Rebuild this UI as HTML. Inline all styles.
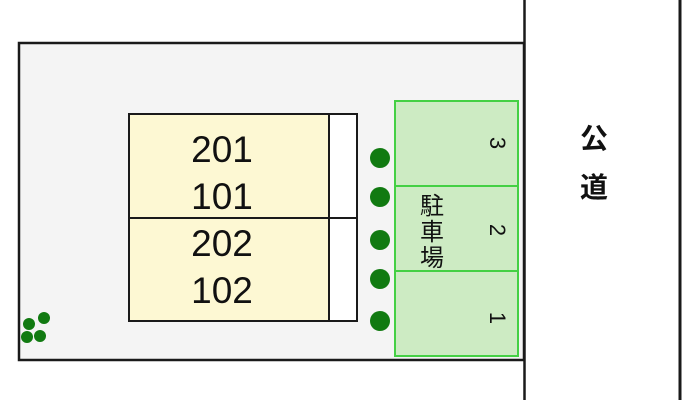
<!DOCTYPE html>
<html><head><meta charset="utf-8"><style>
html,body{margin:0;padding:0;background:#fff;}
svg{display:block;}
text{font-family:"Liberation Sans","Noto Sans CJK JP",sans-serif;}
</style></head><body>
<svg width="700" height="400" viewBox="0 0 700 400" xmlns="http://www.w3.org/2000/svg">
<rect x="0" y="0" width="700" height="400" fill="#fff"/>
<rect x="19" y="43" width="505" height="317" fill="#f4f4f4" stroke="#1a1a1a" stroke-width="2.5"/>
<line x1="524.5" y1="0" x2="524.5" y2="400" stroke="#1a1a1a" stroke-width="2.5"/>
<line x1="680" y1="0" x2="680" y2="400" stroke="#1a1a1a" stroke-width="3"/>
<rect x="129" y="114" width="200" height="207" fill="#fdf8d3" stroke="#1a1a1a" stroke-width="2"/>
<rect x="329" y="114" width="28" height="207" fill="#fff" stroke="#1a1a1a" stroke-width="2"/>
<line x1="129" y1="218" x2="357" y2="218" stroke="#1a1a1a" stroke-width="2"/>
<g font-size="37" text-anchor="middle" fill="#111">
<text x="222" y="162">201</text>
<text x="222" y="209">101</text>
<text x="222" y="256">202</text>
<text x="222" y="303">102</text>
</g>
<rect x="395" y="101" width="123" height="255" fill="#cdebc3" stroke="#44d044" stroke-width="2"/>
<line x1="395" y1="186" x2="518" y2="186" stroke="#44d044" stroke-width="2"/>
<line x1="395" y1="271" x2="518" y2="271" stroke="#44d044" stroke-width="2"/>
<g font-size="22" fill="#111" text-anchor="middle">
<text transform="translate(490,143) rotate(90)">3</text>
<text transform="translate(490,230) rotate(90)">2</text>
<text transform="translate(490,318) rotate(90)">1</text>
</g>
<g font-size="24" fill="#111" text-anchor="middle">
<text x="432" y="214">駐</text>
<text x="432" y="240">車</text>
<text x="432" y="266">場</text>
</g>
<g font-size="28" font-weight="bold" fill="#111" text-anchor="middle">
<text x="594" y="148">公</text>
<text x="594" y="197">道</text>
</g>
<g fill="#117a11">
<circle cx="380" cy="158" r="10"/>
<circle cx="380" cy="197" r="10"/>
<circle cx="380" cy="240" r="10"/>
<circle cx="380" cy="279" r="10"/>
<circle cx="380" cy="321" r="10"/>
<circle cx="29" cy="324" r="6"/>
<circle cx="44" cy="318" r="6"/>
<circle cx="27" cy="337" r="6"/>
<circle cx="40" cy="336" r="6"/>
</g>
</svg>
</body></html>
